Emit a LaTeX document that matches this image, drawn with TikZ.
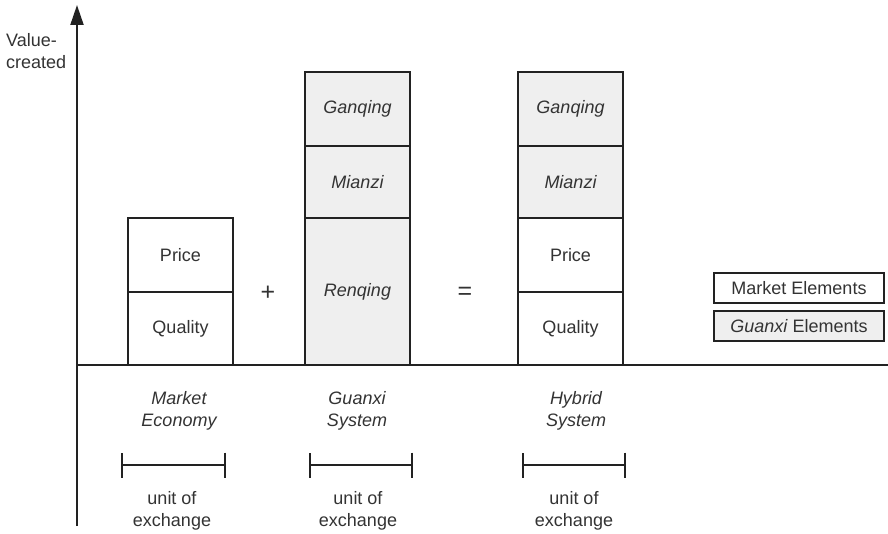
\documentclass[tikz,border=0pt]{standalone}
\usepackage{fontspec}
\setmainfont{Liberation Sans}
\usetikzlibrary{arrows.meta}
\definecolor{ink}{HTML}{222222}
\definecolor{txt}{HTML}{333333}
\definecolor{gfill}{HTML}{EFEFEF}
\tikzset{
  lbl/.style={text=txt, font=\fontsize{18}{22}\selectfont, align=center, inner sep=0pt},
  oper/.style={text=txt, font=\fontsize{25}{25}\selectfont, inner sep=0pt},
  mkt/.style={draw=ink, line width=1.8pt, fill=white, minimum width=105pt, inner sep=0pt, lbl},
  gx/.style={mkt, fill=gfill},
  legend/.style={draw=ink, line width=1.8pt, minimum width=170pt, minimum height=30pt, inner sep=0pt, lbl},
  unitbar/.style={draw=ink, line width=1.8pt, {Bar[width=25pt,line width=1.8pt]}-{Bar[width=25pt,line width=1.8pt]}},
  axis/.style={draw=ink, line width=2pt}
}
\begin{document}
\begin{tikzpicture}[x=1pt,y=-1pt]
\useasboundingbox (0,0) rectangle (888,534);
% axes
\coordinate (o) at (77,365);
\coordinate (ytop) at (77,5);
\coordinate (ybot) at (77,526);
\coordinate (xend) at (888,365);
\draw[axis] (o) -- (xend);
\draw[axis,-{Triangle[length=20pt,width=13pt]}] (ybot) -- (ytop);
\node[lbl, align=left, anchor=west] (vc) at (6,51) {Value-\\created};
% market economy
\node[mkt, minimum height=73pt] (mq) at (180.5,328.5) {Quality};
\node[mkt, minimum height=74pt] (mp) at (180.5,255) {Price};
% guanxi system
\node[gx, minimum height=147pt] (gr) at (357.5,291.5) {\itshape Renqing};
\node[gx, minimum height=72pt] (gm) at (357.5,182) {\itshape Mianzi};
\node[gx, minimum height=74pt] (gg) at (357.5,109) {\itshape Ganqing};
% hybrid system
\node[mkt, minimum height=73pt] (hq) at (570.5,328.5) {Quality};
\node[mkt, minimum height=74pt] (hp) at (570.5,255) {Price};
\node[gx, minimum height=72pt] (hm) at (570.5,182) {\itshape Mianzi};
\node[gx, minimum height=74pt] (hg) at (570.5,109) {\itshape Ganqing};
% operators
\node[oper] (plus) at (268,293) {+};
\node[oper] (eq) at (465,293) {=};
% legend
\node[legend, fill=white] (lm) at (799,288) {Market Elements};
\node[legend, fill=gfill] (lg) at (799,326) {\textit{Guanxi} Elements};
% labels below
\node[lbl] (me) at (179,411) {\itshape Market\\\itshape Economy};
\node[lbl] (gs) at (357,411) {\itshape Guanxi\\\itshape System};
\node[lbl] (hs) at (576,411) {\itshape Hybrid\\\itshape System};
% unit bars
\coordinate (m1) at (121,465); \coordinate (m2) at (226,465);
\coordinate (g1) at (309,465); \coordinate (g2) at (413,465);
\coordinate (h1) at (522,465); \coordinate (h2) at (626,465);
\draw[unitbar] (m1) -- (m2);
\draw[unitbar] (g1) -- (g2);
\draw[unitbar] (h1) -- (h2);
\node[lbl] (mu) at (172,511) {unit of\\exchange};
\node[lbl] (gu) at (358,511) {unit of\\exchange};
\node[lbl] (hu) at (574,511) {unit of\\exchange};
\end{tikzpicture}
\end{document}
